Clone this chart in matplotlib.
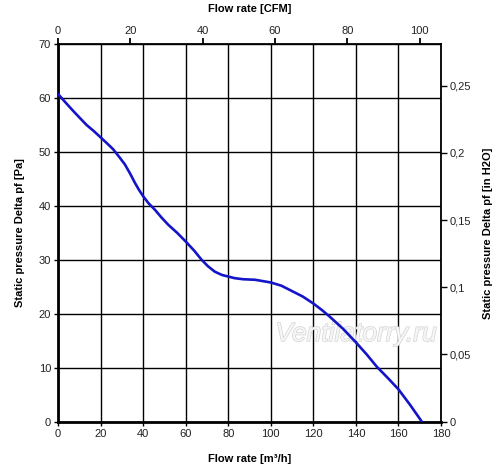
import matplotlib
matplotlib.use("Agg")
import matplotlib.pyplot as plt
import matplotlib.patheffects as pe

plt.rcParams['font.family'] = ['Liberation Sans', 'DejaVu Sans']

# Data
flow_m3h = [0, 3, 6.3, 10, 13.4, 17, 20, 23, 25.9, 28.5, 31.4, 34, 36.1, 38, 40, 42.5,
            45.5, 48.5, 51.8, 56, 60, 64, 67.5, 70.5, 73.7, 77, 80, 83, 87, 92.6,
            100, 105, 109, 115, 120, 124, 127.9, 134, 140, 145, 149.8, 155, 160, 165.5, 171]
pressure_pa = [60.75, 59.4, 57.95, 56.4, 55.0, 53.8, 52.7, 51.6, 50.5, 49.2, 47.7, 45.9, 44.3, 43.0, 41.8, 40.5,
               39.3, 37.9, 36.5, 35.0, 33.4, 31.7, 30.0, 28.8, 27.8, 27.2, 26.9, 26.6, 26.4, 26.3,
               25.8, 25.2, 24.4, 23.2, 21.9, 20.7, 19.4, 17.2, 14.7, 12.5, 10.2, 8.1, 6.0, 3.1, 0.0]

x_ticks = [0, 20, 40, 60, 80, 100, 120, 140, 160, 180]
y_ticks = [0, 10, 20, 30, 40, 50, 60, 70]
cfm_ticks = [0, 20, 40, 60, 80, 100]
inh2o_ticks = [0, 0.05, 0.1, 0.15, 0.2, 0.25]
inh2o_labels = ['0', '0,05', '0,1', '0,15', '0,2', '0,25']

M3H_PER_CFM = 1.699
PA_PER_INH2O = 249.09

fig = plt.figure(figsize=(5.0, 4.73), dpi=100)
ax = fig.add_axes([0.116, 0.1085, 0.766, 0.7985])

ax.plot(flow_m3h, pressure_pa, color='#1414c8', lw=1.9, solid_capstyle='round', zorder=3)

ax.set_xlim(0, 180)
ax.set_ylim(0, 70)
ax.set_xticks(x_ticks)
ax.set_yticks(y_ticks)
ax.grid(True, color='black', lw=1.0)
ax.set_axisbelow(True)
ax.tick_params(axis='both', labelsize=8, direction='out', length=3, width=1, colors='black',
               labelcolor='#222222', pad=2)
ax.spines['left'].set_linewidth(2.0)
ax.spines['bottom'].set_linewidth(2.0)
ax.spines['top'].set_linewidth(1.3)
ax.spines['right'].set_linewidth(1.3)

ax.set_xlabel('Flow rate [m³/h]', fontsize=8, fontweight='bold', labelpad=11)
ax.set_ylabel('Static pressure Delta pf [Pa]', fontsize=8, fontweight='bold', labelpad=10)

# Top axis: CFM
axt = ax.twiny()
axt.set_xlim(0, 180 / M3H_PER_CFM)
axt.set_xticks(cfm_ticks)
axt.tick_params(axis='x', labelsize=8, direction='out', length=4, width=1.3, pad=2,
                labelcolor='#222222')
axt.set_xlabel('Flow rate [CFM]', fontsize=8, fontweight='bold', labelpad=10)

# Right axis: in H2O
axr = ax.twinx()
axr.set_ylim(0, 70 / PA_PER_INH2O)
axr.set_yticks(inh2o_ticks)
axr.set_yticklabels(inh2o_labels)
axr.tick_params(axis='y', labelsize=8, direction='out', length=4, width=1, pad=2,
                labelcolor='#222222')
axr.set_ylabel('Static pressure Delta pf [in H2O]', fontsize=8, fontweight='bold', labelpad=9)
for a in (axt, axr):
    for s in a.spines.values():
        s.set_visible(False)

ax.text(0.778, 0.232, 'Ventilatorry.ru', transform=ax.transAxes, fontsize=19,
        style='italic', color='#f6f6f6', ha='center', va='center', zorder=2,
        path_effects=[pe.withStroke(linewidth=1.0, foreground='#d4d4d4')])

fig.savefig('out.png', dpi=100)
